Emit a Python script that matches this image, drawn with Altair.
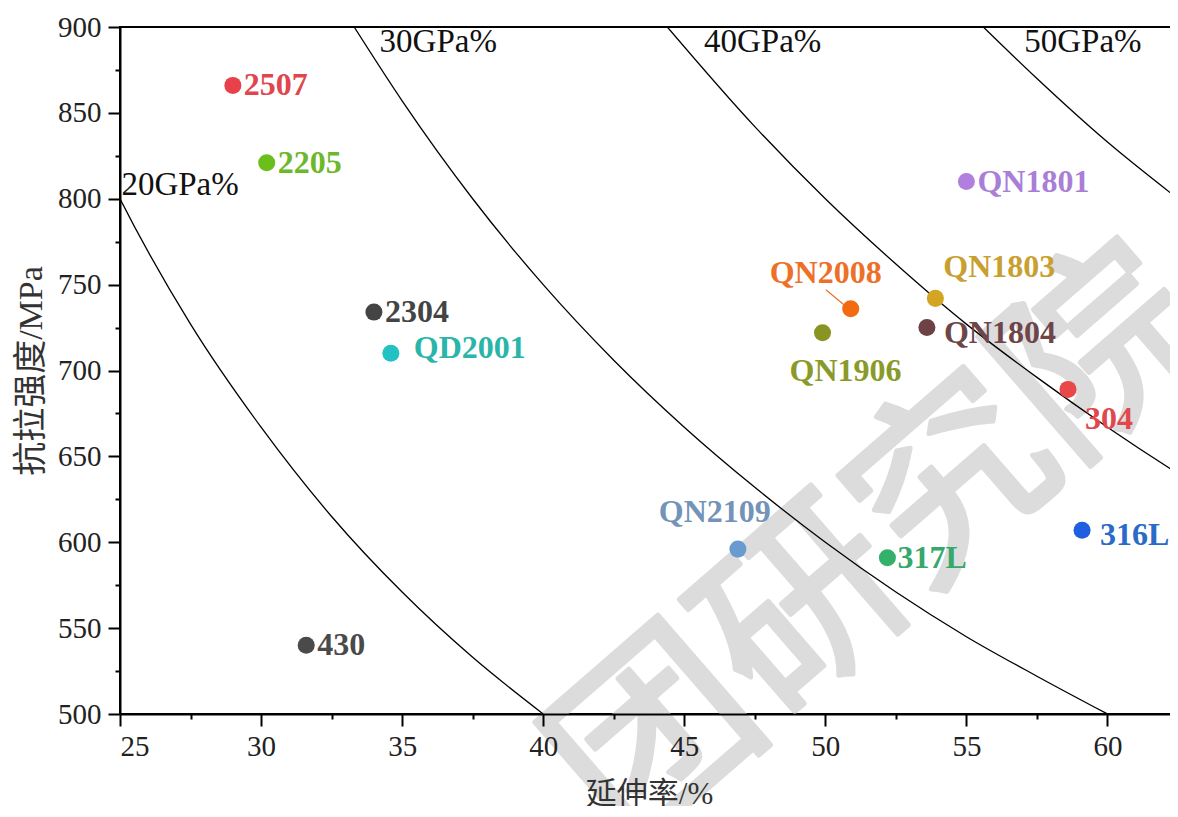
import altair as alt
import pandas as pd

# ---- data ----
names = ["2507", "2205", "2304", "QD2001", "430", "QN2109", "317L", "316L",
         "304", "QN1804", "QN1803", "QN2008", "QN1906", "QN1801"]
elong = [29.0, 30.2, 34.0, 34.6, 31.6, 46.9, 52.2, 59.1,
         58.6, 53.6, 53.9, 50.9, 49.9, 55.0]
tensile = [866, 821, 734, 710, 540, 596, 591, 607,
           689, 725, 742, 736, 722, 810]

# iso strength-elongation product curves (GPa%)
c20_x = [22.5, 25, 27.5, 30, 32.5, 35, 37.5, 40]
c20_y = [889, 800, 727, 667, 615, 571, 533, 500]
c30_x = [33.3, 35, 37.5, 40, 42.5, 45, 47.5, 50, 52.5, 55, 57.5, 60]
c30_y = [900, 857, 800, 750, 706, 667, 632, 600, 571, 545, 522, 500]
c40_x = [44.4, 47.5, 50, 52.5, 55, 57.5, 60, 62.5, 65]
c40_y = [900, 842, 800, 762, 727, 696, 667, 640, 615]
c50_x = [55.6, 57.5, 60, 62.5, 65]
c50_y = [900, 870, 833, 800, 769]
curve_names = ["20GPa%", "30GPa%", "40GPa%", "50GPa%"]
curve_label_x = [25.05, 34.2, 45.7, 57.05]
curve_label_y = [808, 891, 891, 891]

x_ticks = [25, 27.5, 30, 32.5, 35, 37.5, 40, 42.5, 45, 47.5, 50, 52.5, 55, 57.5, 60, 62.5]
y_ticks = [500, 525, 550, 575, 600, 625, 650, 675, 700, 725, 750, 775, 800, 825, 850, 875, 900]

watermark_text = ["团研究院"]

# ---- styles ----
point_colors = ["#e8414a", "#6cbf1a", "#444444", "#22c1c4", "#4a4a4a", "#6a9bd0", "#33b06a", "#1f5fe0",
                "#e84848", "#6e4245", "#d4a522", "#f26b12", "#8a9422", "#b07fe0"]
label_colors = ["#e0464e", "#6cb82a", "#444444", "#2ab5a8", "#4a4a4a", "#7393b8", "#35a86a", "#2a6ac8",
                "#e0484e", "#6e4548", "#c8a030", "#ee7028", "#8a9a2a", "#a97ed6"]
# (dx, dy, align) of each label relative to its point, in pixels
label_pos = [(11, 0, "left"), (11, 0, "left"), (11, 0, "left"), (23, -5, "left"), (11, 0, "left"),
             (-23, -37, "center"), (10, 0, "left"), (18, 5, "left"), (17, 30, "left"),
             (17, 5, "left"), (8, -31, "left"), (-25, -36, "center"), (23, 38, "center"),
             (11, 0, "left")]

SERIF = "Liberation Serif, Times New Roman, serif"
CJK = "Liberation Serif, Noto Sans CJK SC, sans-serif"

xscale = alt.Scale(domain=[25, 62.5], nice=False, zero=False)
yscale = alt.Scale(domain=[500, 900], nice=False, zero=False)

x_axis = alt.Axis(values=x_ticks, labelExpr="datum.value % 5 === 0 ? datum.label : ''",
                  tickSize={"condition": {"test": "datum.value % 5 === 0", "value": 12}, "value": 5},
                  title="延伸率/%", titleFont=CJK, titleFontSize=31, titleFontWeight="normal",
                  titleColor="#333333", titlePadding=18, zindex=1,
                  labelFont=SERIF, labelFontSize=29, labelColor="#222222", labelPadding=6,
                  domainColor="black", domainWidth=2, tickColor="black", tickWidth=2, grid=False)
y_axis = alt.Axis(values=y_ticks, labelExpr="datum.value % 50 === 0 ? datum.label : ''",
                  tickSize={"condition": {"test": "datum.value % 50 === 0", "value": 12}, "value": 5},
                  title="抗拉强度/MPa", titleFont=CJK, titleFontSize=34, titleFontWeight="normal",
                  titleColor="#333333", titlePadding=9, zindex=1,
                  labelFont=SERIF, labelFontSize=29, labelColor="#222222", labelPadding=7,
                  domainColor="black", domainWidth=2, tickColor="black", tickWidth=2, grid=False)

rows = []
for cname, xs, ys in zip(curve_names, [c20_x, c30_x, c40_x, c50_x], [c20_y, c30_y, c40_y, c50_y]):
    for i, (a, b) in enumerate(zip(xs, ys)):
        rows.append({"curve": cname, "order": i, "x": a, "y": b})
curves_df = pd.DataFrame(rows)

pts = pd.DataFrame({"name": names, "x": elong, "y": tensile, "pc": point_colors, "lc": label_colors})

# watermark
watermark = alt.Chart(pd.DataFrame({"t": watermark_text})).mark_text(
    font="Noto Sans CJK SC", fontSize=196, fontWeight="normal", color="#dcdcdc",
    stroke="#dcdcdc", strokeWidth=5, strokeJoin="round",
    angle=319, align="center", baseline="middle"
).encode(x=alt.value(762), y=alt.value(522), text="t:N")

base_axes = alt.Chart(curves_df).mark_line(color="black", strokeWidth=1.3, clip=True,
                                           interpolate="monotone").encode(
    x=alt.X("x:Q", scale=xscale, axis=x_axis),
    y=alt.Y("y:Q", scale=yscale, axis=y_axis),
    detail="curve:N", order="order:Q")

curve_labels = alt.Chart(pd.DataFrame({"t": curve_names, "x": curve_label_x, "y": curve_label_y})).mark_text(
    font=SERIF, fontSize=33, color="#111111", align="left", baseline="middle"
).encode(x=alt.X("x:Q", scale=xscale), y=alt.Y("y:Q", scale=yscale), text="t:N")

points = alt.Chart(pts).mark_circle(size=290, opacity=1).encode(
    x=alt.X("x:Q", scale=xscale), y=alt.Y("y:Q", scale=yscale),
    color=alt.Color("pc:N", scale=None))

# leader line for QN2008
q = names.index("QN2008")
leader = alt.Chart(pd.DataFrame({"x": [elong[q] - 0.88], "y": [tensile[q] + 11],
                                 "x2": [elong[q] - 0.22], "y2": [tensile[q] + 2]})).mark_rule(
    color="#ee7028", strokeWidth=1.2).encode(
    x=alt.X("x:Q", scale=xscale), y=alt.Y("y:Q", scale=yscale), x2="x2:Q", y2="y2:Q")

label_layers = []
for i, n in enumerate(names):
    dx, dy, al = label_pos[i]
    label_layers.append(
        alt.Chart(pts.iloc[[i]]).mark_text(font=SERIF, fontSize=32, fontWeight="bold",
                                           align=al, baseline="middle", dx=dx, dy=dy).encode(
            x=alt.X("x:Q", scale=xscale), y=alt.Y("y:Q", scale=yscale), text="name:N",
            color=alt.Color("lc:N", scale=None)))

chart = alt.layer(watermark, base_axes, curve_labels, leader, points, *label_layers).properties(
    width=1058, height=687, autosize=alt.AutoSizeParams(type="none"),
    padding={"left": 112, "top": 19, "right": -8, "bottom": 92},
    background="white"
).configure_view(stroke="black", strokeWidth=2)

chart.save("out.html", embed_options={"renderer": "svg", "actions": False})
